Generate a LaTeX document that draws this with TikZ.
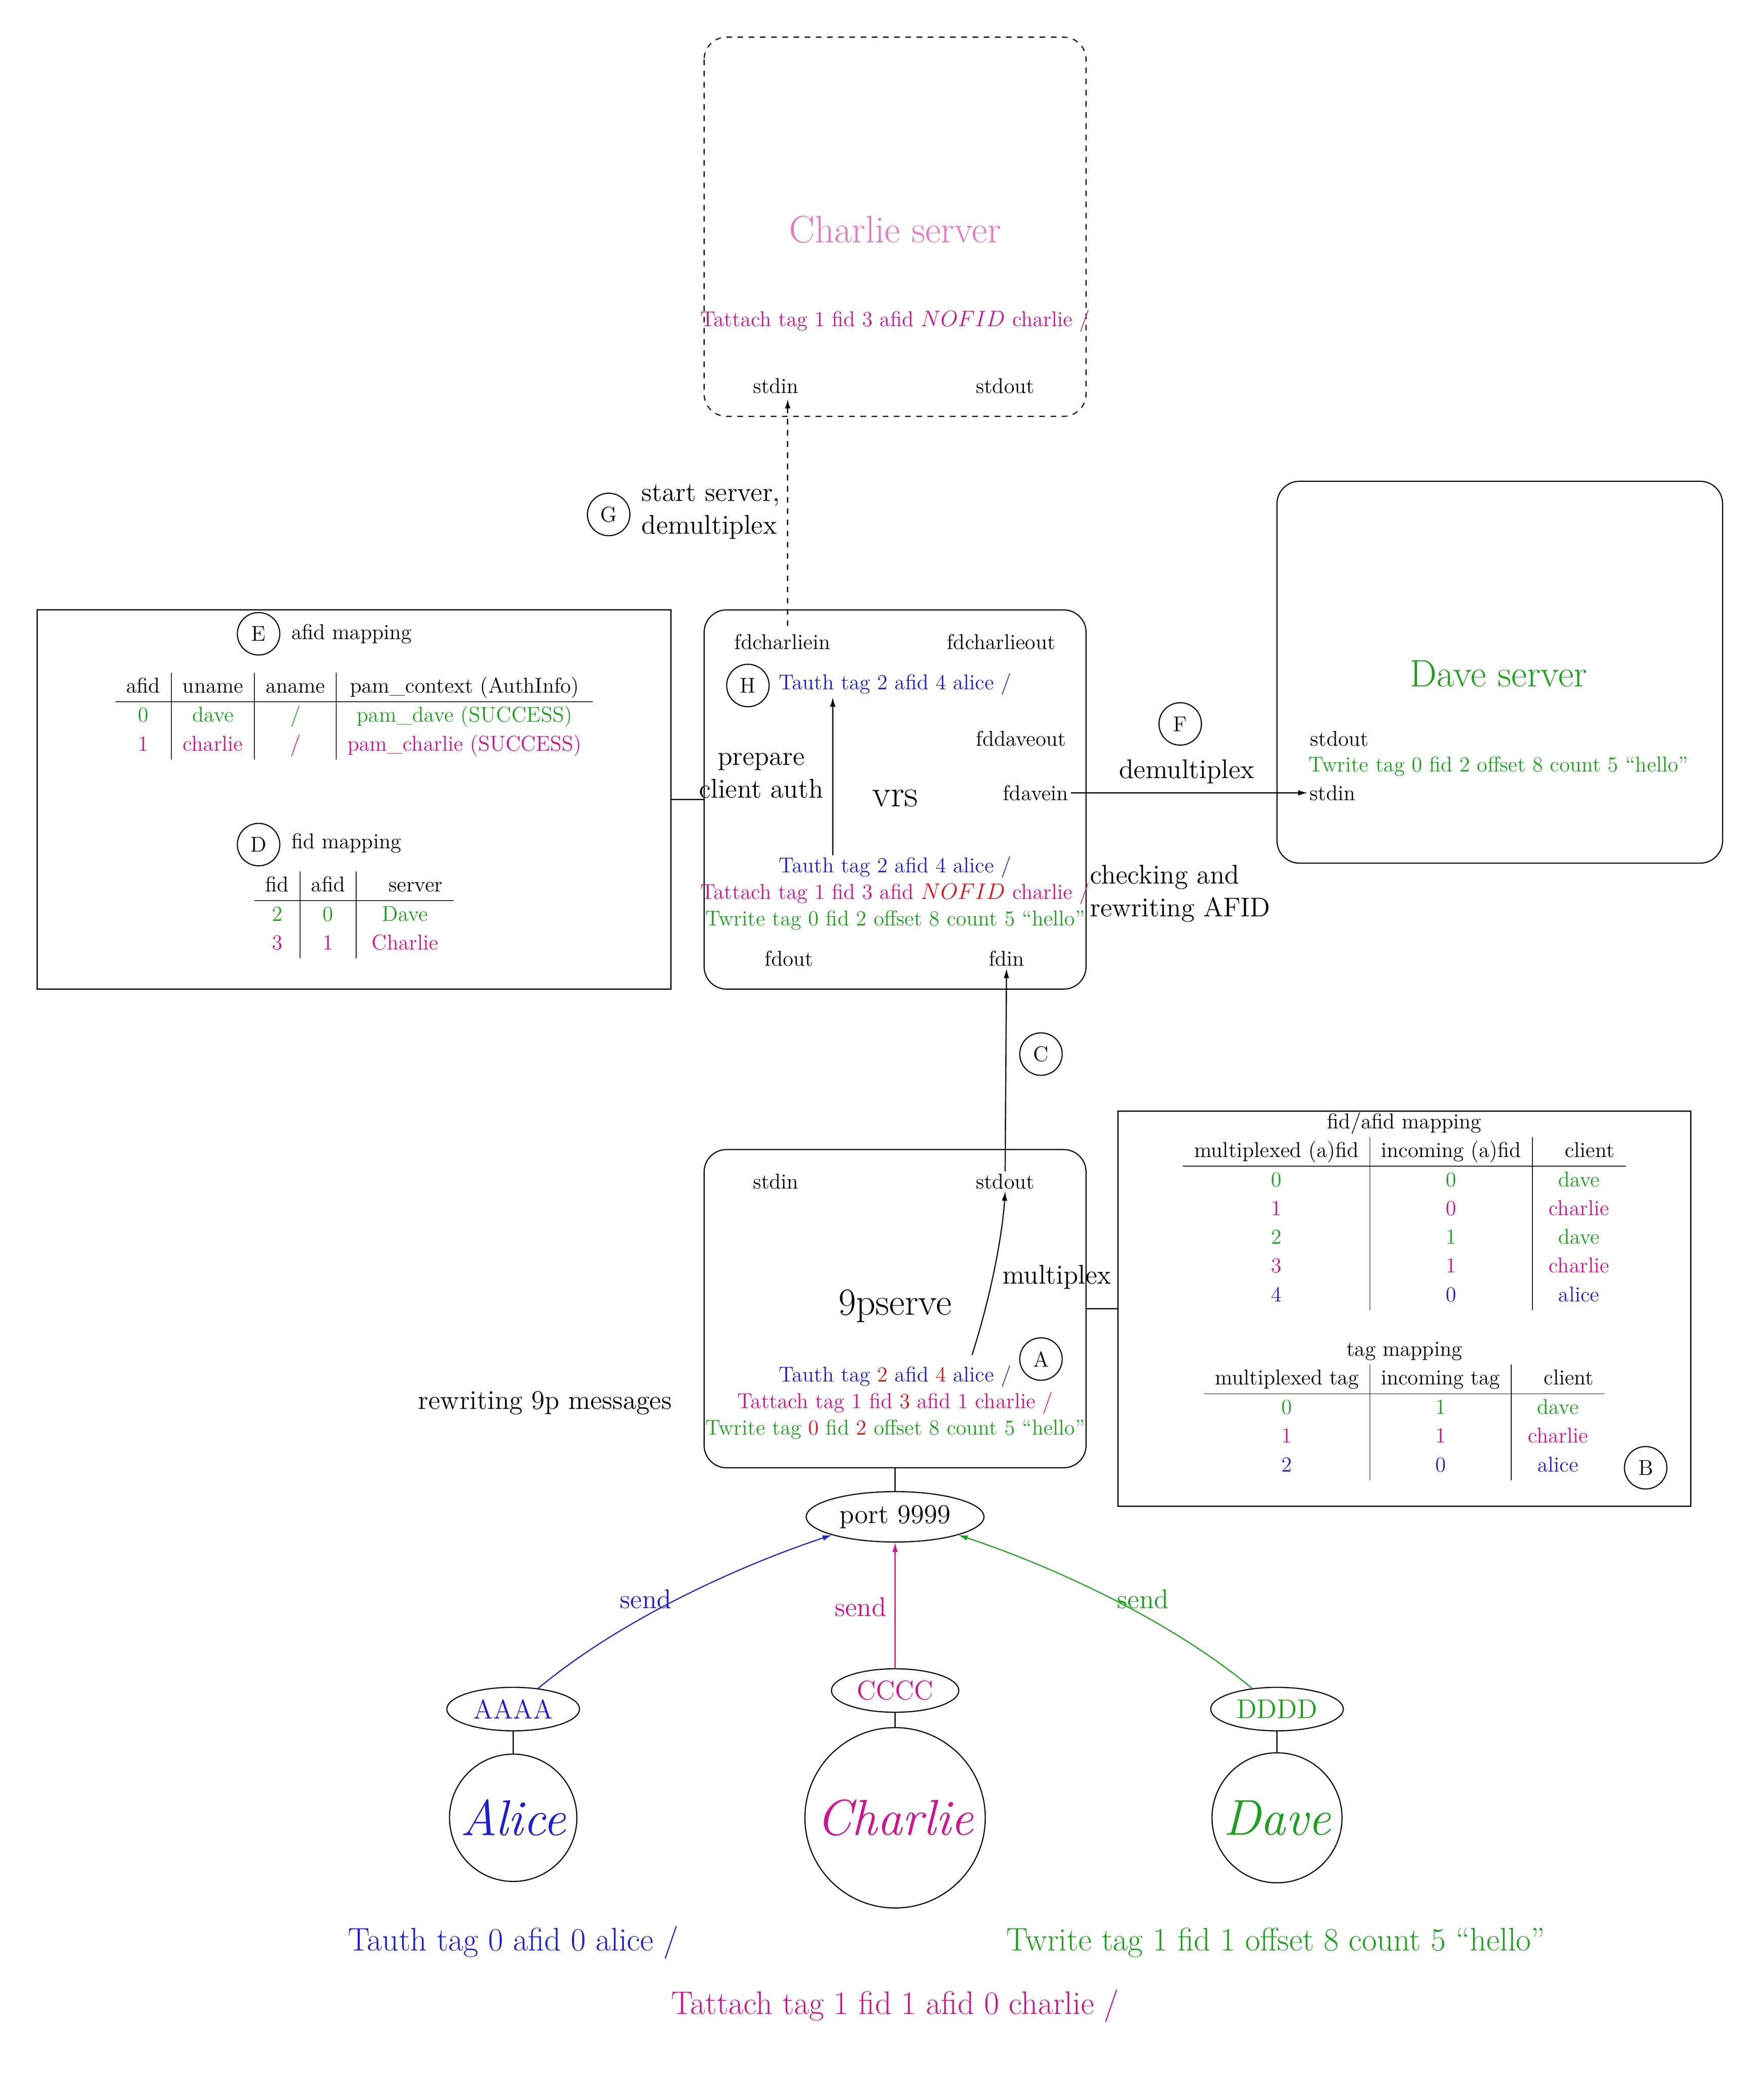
\documentclass[tikz,border=0pt]{standalone}
\usetikzlibrary{shapes.geometric,arrows.meta}
\definecolor{cb}{RGB}{30,30,210}
\definecolor{cm}{RGB}{205,20,140}
\definecolor{cg}{RGB}{30,160,30}
\definecolor{cr}{RGB}{220,20,20}
\definecolor{cp}{RGB}{230,120,190}
\begin{document}
\begin{tikzpicture}[x=0.025cm,y=-0.025cm,semithick,
  box/.style={draw,rounded corners=12pt},
  sq/.style={draw},
  lab/.style={draw,circle,minimum size=0.8cm,inner sep=0pt,font=\fontsize{11.5}{14}\selectfont},
  big/.style={font=\fontsize{20.5}{24}\selectfont},
  mid/.style={font=\fontsize{14.5}{17.5}\selectfont},
  arr/.style={-{Latex[length=5pt,width=3pt]}},
  every node/.style={inner sep=1pt,font=\fontsize{11.5}{14}\selectfont}]
\useasboundingbox (0,0) rectangle (1330,1565);
% Charlie server
\draw[box,dashed] (531,28) rectangle (819,314);
\node[big,text=cp] (cst) at (675,173) {Charlie server};
\node[text=cm] (cta) at (675,242) {Tattach tag 1 fid 3 afid $NOFID$ charlie /};
\node (cin) at (585,291) {stdin};
\node (cout) at (758,291) {stdout};
\coordinate (cinb) at (594,301);
% vrs
\draw[box] (531,460) rectangle (819,746);
\coordinate (vrsw) at (531,603);
\node (fci) at (590,484) {fdcharliein};
\node (fco) at (755,484) {fdcharlieout};
\node[lab] (H) at (564,517) {H};
\node[text=cb] (vt1) at (675,516) {Tauth tag 2 afid 4 alice /};
\node (fdo) at (770,557) {fddaveout};
\node[mid,align=center] (prep) at (574,585) {prepare\\client auth};
\node[big] (vrs) at (675,602) {vrs};
\node (fdi) at (781,598) {fdavein};
\node[text=cb] (vt2) at (675,654) {Tauth tag 2 afid 4 alice /};
\node[text=cm] (vt3) at (675,674) {Tattach tag 1 fid 3 afid \textcolor{cr}{$NOFID$} charlie /};
\node[text=cg] (vt4) at (675,694) {Twrite tag 0 fid 2 offset 8 count 5 ``hello''};
\node (fout) at (595,723) {fdout};
\node (fin) at (759,723) {fdin};
\coordinate (ia) at (628,645);
\coordinate (ib) at (628,526);
\draw[arr] (ia) -- (ib);
\coordinate (fcit) at (594,472);
\draw[arr,dashed] (fcit) -- (cinb);
\node[lab] (G) at (459,388) {G};
\node[mid,align=left,anchor=west] (gt) at (482,386) {start server,\\demultiplex};
% Dave server
\draw[box] (963,363) rectangle (1299,651);
\node[big,text=cg] (dst) at (1130,508) {Dave server};
\node (dout) at (1010,557) {stdout};
\node[text=cg] (dtw) at (1130,578) {Twrite tag 0 fid 2 offset 8 count 5 ``hello''};
\node (din) at (1005,598) {stdin};
\draw[arr] (fdi.east) -- (din.west);
\node[lab] (F) at (890,546) {F};
\node[mid] (dm) at (895,582) {demultiplex};
\node[mid,align=left] (chk) at (890,674) {checking and\\rewriting AFID};
% E box
\draw[sq] (28,460) rectangle (506,746);
\coordinate (Ee) at (506,603);
\draw (Ee) -- (vrsw);
\node[lab] (E) at (195,478) {E};
\node[anchor=west] (Et) at (218,478) {afid mapping};
\node (Etab) at (267,540) {\renewcommand{\arraystretch}{1.1}\begin{tabular}{c|c|c|c}
afid & uname & aname & pam\_context (AuthInfo)\\\hline
\textcolor{cg}{0} & \textcolor{cg}{dave} & \textcolor{cg}{/} & \textcolor{cg}{pam\_dave (SUCCESS)}\\
\textcolor{cm}{1} & \textcolor{cm}{charlie} & \textcolor{cm}{/} & \textcolor{cm}{pam\_charlie (SUCCESS)}
\end{tabular}};
\node[lab] (D) at (195,637) {D};
\node[anchor=west] (Dt) at (218,636) {fid mapping};
\node (Dtab) at (267,690) {\renewcommand{\arraystretch}{1.1}\begin{tabular}{c|c|c}
fid & afid & \quad server\quad{}\\\hline
\textcolor{cg}{2} & \textcolor{cg}{0} & \textcolor{cg}{Dave}\\
\textcolor{cm}{3} & \textcolor{cm}{1} & \textcolor{cm}{Charlie}
\end{tabular}};
% 9pserve
\draw[box] (531,867) rectangle (819,1107);
\coordinate (pe) at (819,987);
\coordinate (ps) at (675,1107);
\node (pin) at (585,891) {stdin};
\node (pout) at (758,891) {stdout};
\node[big] (ps9) at (675,985) {9pserve};
\node[lab] (A) at (785,1025) {A};
\node[text=cb] (pt1) at (675,1038) {Tauth tag \textcolor{cr}{2} afid \textcolor{cr}{4} alice /};
\node[text=cm] (pt2) at (675,1058) {Tattach tag 1 fid \textcolor{cr}{3} afid 1 charlie /};
\node[text=cg] (pt3) at (675,1078) {Twrite tag \textcolor{cr}{0} fid \textcolor{cr}{2} offset 8 count 5 ``hello''};
\coordinate (ca) at (733,1022);
\draw[arr] (ca) .. controls (748,975) and (756,930) .. (pout.south);
\draw[arr] (pout.north) -- (fin.south);
\node[lab] (C) at (785,795) {C};
\node[mid] (mp) at (797,963) {multiplex};
\node[mid] (rw) at (411,1058) {rewriting 9p messages};
% B box
\draw[sq] (843,838) rectangle (1275,1136);
\coordinate (Bw) at (843,987);
\draw (pe) -- (Bw);
\node (Btab1) at (1059,912) {\renewcommand{\arraystretch}{1.1}\begin{tabular}{c|c|c}
\multicolumn{3}{c}{fid/afid mapping}\\
multiplexed (a)fid & incoming (a)fid & \quad client\quad{}\\\hline
\textcolor{cg}{0} & \textcolor{cg}{0} & \textcolor{cg}{dave}\\
\textcolor{cm}{1} & \textcolor{cm}{0} & \textcolor{cm}{charlie}\\
\textcolor{cg}{2} & \textcolor{cg}{1} & \textcolor{cg}{dave}\\
\textcolor{cm}{3} & \textcolor{cm}{1} & \textcolor{cm}{charlie}\\
\textcolor{cb}{4} & \textcolor{cb}{0} & \textcolor{cb}{alice}
\end{tabular}};
\node (Btab2) at (1059,1062) {\renewcommand{\arraystretch}{1.1}\begin{tabular}{c|c|c}
\multicolumn{3}{c}{tag mapping}\\
multiplexed tag & incoming tag & \quad client\quad{}\\\hline
\textcolor{cg}{0} & \textcolor{cg}{1} & \textcolor{cg}{dave}\\
\textcolor{cm}{1} & \textcolor{cm}{1} & \textcolor{cm}{charlie}\\
\textcolor{cb}{2} & \textcolor{cb}{0} & \textcolor{cb}{alice}
\end{tabular}};
\node[lab] (B) at (1241,1107) {B};
% port and clients
\node[draw,ellipse,mid,minimum width=3.35cm,minimum height=0.95cm] (port) at (675,1144) {port 9999};
\draw (ps) -- (port.north);
\node[draw,ellipse,text=cb,mid,minimum width=2.5cm,minimum height=0.82cm] (aa) at (387,1289) {AAAA};
\node[draw,ellipse,text=cm,mid,minimum width=2.4cm,minimum height=0.82cm] (cc) at (675,1275) {CCCC};
\node[draw,ellipse,text=cg,mid,minimum width=2.5cm,minimum height=0.82cm] (dd) at (963,1289) {DDDD};
\node[draw,circle,minimum size=2.4cm,font=\fontsize{27}{30}\selectfont\itshape,text=cb] (alice) at (387,1371) {Alice};
\node[draw,circle,minimum size=3.4cm,font=\fontsize{27}{30}\selectfont\itshape,text=cm] (charlie) at (675,1371) {Charlie};
\node[draw,circle,minimum size=2.45cm,font=\fontsize{27}{30}\selectfont\itshape,text=cg] (dave) at (963,1371) {Dave};
\draw (aa) -- (alice);
\draw (cc) -- (charlie);
\draw (dd) -- (dave);
\draw[arr,draw=cb] (aa) .. controls (470,1220) and (560,1180) .. (port.south west);
\draw[arr,draw=cm] (cc) -- (port);
\draw[arr,draw=cg] (dd) .. controls (880,1220) and (790,1180) .. (port.south east);
\node[mid,text=cb] (s1) at (487,1206) {send};
\node[mid,text=cm] (s2) at (649,1212) {send};
\node[mid,text=cg] (s3) at (862,1206) {send};
\node[font=\fontsize{17.5}{21}\selectfont,text=cb] (b1) at (387,1465) {Tauth tag 0 afid 0 alice /};
\node[font=\fontsize{17.5}{21}\selectfont,text=cg] (b2) at (962,1465) {Twrite tag 1 fid 1 offset 8 count 5 ``hello''};
\node[font=\fontsize{17.5}{21}\selectfont,text=cm] (b3) at (675,1513) {Tattach tag 1 fid 1 afid 0 charlie /};
\end{tikzpicture}
\end{document}
